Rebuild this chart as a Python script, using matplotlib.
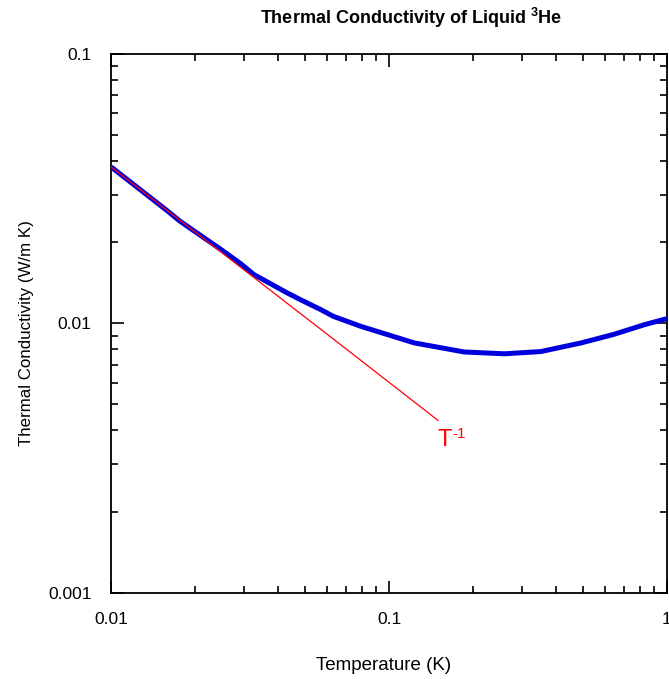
import matplotlib
matplotlib.use("Agg")
import matplotlib.pyplot as plt
from matplotlib.ticker import LogLocator, NullFormatter, FixedLocator, FixedFormatter

plt.rcParams['font.family'] = ['Liberation Sans', 'DejaVu Sans']
plt.rcParams['mathtext.fontset'] = 'custom'
plt.rcParams['mathtext.rm'] = 'Liberation Sans'
plt.rcParams['mathtext.bf'] = 'Liberation Sans:bold'

# Measured thermal conductivity of liquid 3He
temp_K = [0.01, 0.0158, 0.0177, 0.0221, 0.0249, 0.0291, 0.0327, 0.0431, 0.0479,
          0.0569, 0.0631, 0.0793, 0.0929, 0.1233, 0.1866, 0.26, 0.352, 0.491,
          0.646, 0.828, 1.0]
kappa = [0.038, 0.0263, 0.0239, 0.0204, 0.01875, 0.0167, 0.01514, 0.01294, 0.01224,
         0.01122, 0.0106, 0.00973, 0.00925, 0.00845, 0.00782, 0.0077, 0.00785,
         0.00845, 0.0091, 0.00987, 0.0104]

# T^-1 reference line
ref_T = [0.01, 0.0706, 0.150]
ref_k = [0.038, 0.00798, 0.00436]
ref_label = 'T'
ref_exp = '-1'

x_ticks = [0.01, 0.1, 1]
x_tick_labels = ['0.01', '0.1', '1']
y_ticks = [0.001, 0.01, 0.1]
y_tick_labels = ['0.001', '0.01', '0.1']

fig = plt.figure(figsize=(6.69, 6.79), dpi=100)
ax = fig.add_axes([0.166, 0.127, 0.831, 0.794])

ax.plot(temp_K, kappa, color='#0000dd', lw=3.6, solid_capstyle='butt',
        solid_joinstyle='round', zorder=3)
ax.plot(ref_T, ref_k, color='#ff0000', lw=0.9, zorder=4)
ax.text(0.149, 0.0037, ref_label, color='#ff0000', fontsize=17,
        ha='left', va='center')
ax.annotate(ref_exp, xy=(0.149, 0.0037), xytext=(11, 4), textcoords='offset points',
            color='#ff0000', fontsize=11, ha='left', va='center')

ax.set_xscale('log')
ax.set_yscale('log')
ax.set_xlim(0.01, 1)
ax.set_ylim(0.001, 0.1)

ax.xaxis.set_major_locator(FixedLocator(x_ticks))
ax.xaxis.set_major_formatter(FixedFormatter(x_tick_labels))
ax.yaxis.set_major_locator(FixedLocator(y_ticks))
ax.yaxis.set_major_formatter(FixedFormatter(y_tick_labels))
for axis in (ax.xaxis, ax.yaxis):
    axis.set_minor_locator(LogLocator(base=10, subs=range(2, 10)))
    axis.set_minor_formatter(NullFormatter())

ax.tick_params(which='both', direction='in', top=True, right=True, width=1.2,
               labelsize=12.5)
ax.tick_params(which='major', length=9)
ax.tick_params(which='minor', length=5)
ax.tick_params(axis='x', pad=14)
ax.tick_params(axis='y', pad=14)
for s in ax.spines.values():
    s.set_linewidth(1.3)

fig.text(384 / 669, 1 - 665 / 679, 'Temperature (K)', fontsize=13.5,
         ha='center', va='center')
fig.text(27 / 669, 1 - 333 / 679, 'Thermal Conductivity (W/m K)', fontsize=12.2,
         rotation=90, ha='center', va='center')
fig.text(411 / 669, 1 - 18 / 679, r'Thermal Conductivity of Liquid $^{\mathbf{3}}$He',
         fontsize=13, fontweight='bold', ha='center', va='center')

fig.savefig('out.png', dpi=100)
